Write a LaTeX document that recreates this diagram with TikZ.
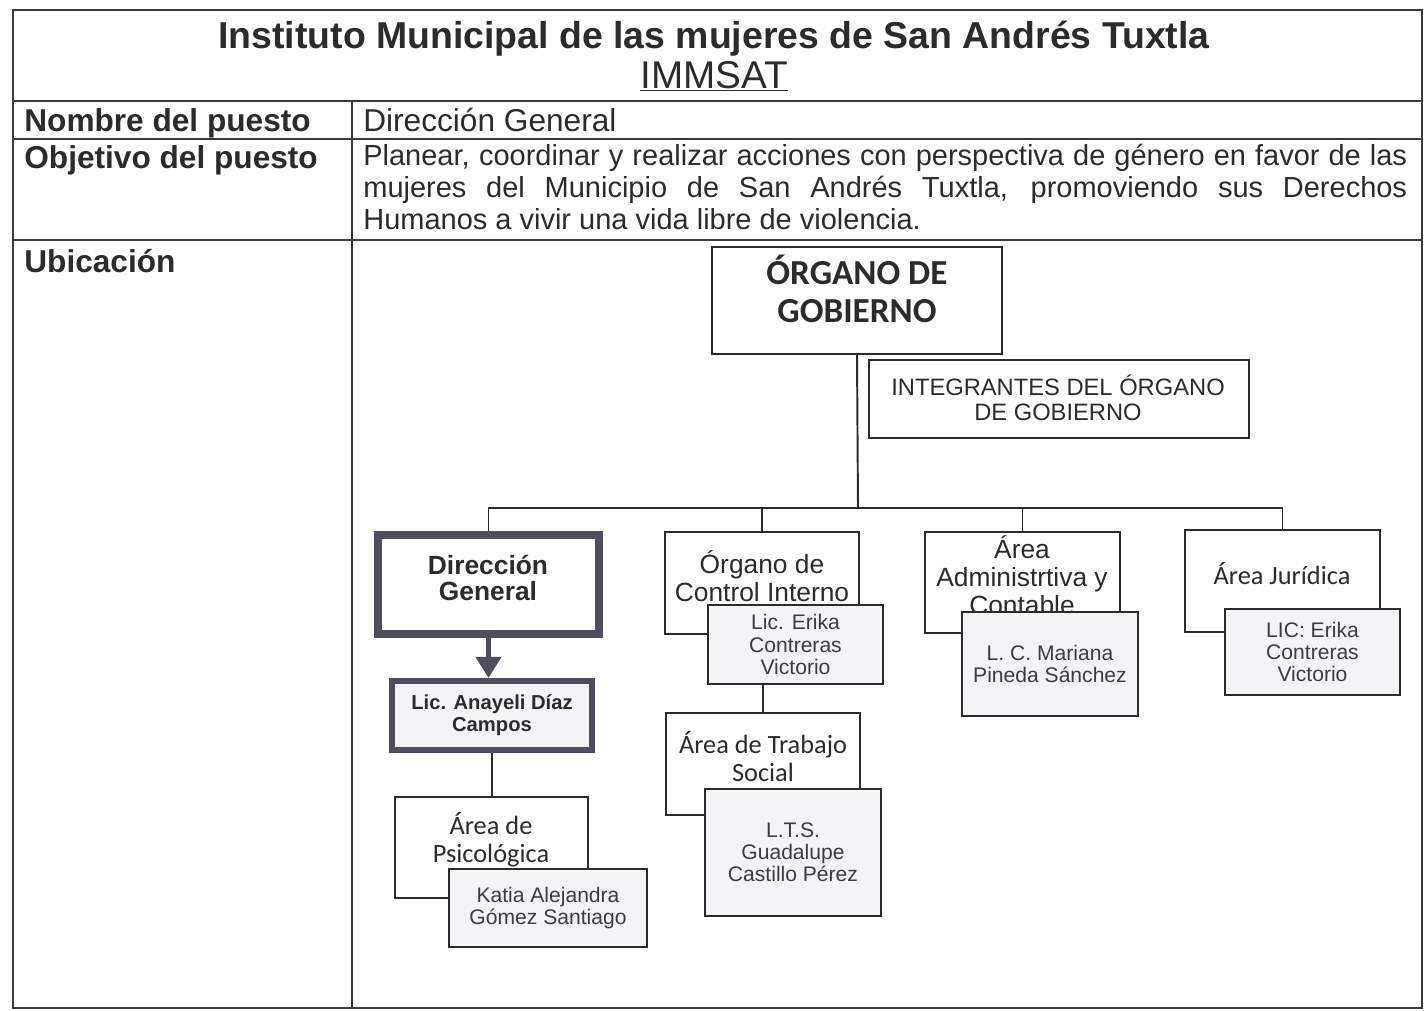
\documentclass[tikz,border=0pt]{standalone}
\usepackage{fontspec}
\setmainfont{Liberation Sans}
\newfontfamily\calibri{Carlito}
\usetikzlibrary{arrows.meta}

\definecolor{ink}{HTML}{2B2B2B}
\definecolor{rulecol}{HTML}{3A3A3A}
\definecolor{framecol}{HTML}{4E4E5C}
\definecolor{namefill}{HTML}{F4F4F6}
\definecolor{nameink}{HTML}{3C3C40}

\tikzset{
  box/.style={draw=ink, line width=1.1pt, fill=white, inner sep=0pt},
  namebox/.style={box, fill=namefill, text=nameink, align=center, font=\fontsize{12}{12.6}\selectfont},
  areatxt/.style={align=center, text=ink, inner sep=0pt},
  arialtxt/.style={areatxt, font=\fontsize{15}{15.8}\selectfont},
  calibtxt/.style={areatxt, font=\calibri\fontsize{15}{16}\selectfont},
  conn/.style={draw=ink, line width=1.1pt},
  rowtxt/.style={anchor=base west, inner sep=0pt, text=ink, font=\fontsize{18}{18.4}\selectfont},
}

\begin{document}
\begin{tikzpicture}[x=0.02cm, y=-0.02cm]
\useasboundingbox (0,0) rectangle (1427,1011);

% tabla
\draw[rulecol, line width=0.8pt] (13,10) rectangle (1422,1008);
\draw[rulecol, line width=0.8pt] (13,101) -- (1422,101) (13,139) -- (1422,139)
  (13,240) -- (1422,240) (352,101) -- (352,1008);

\node[anchor=base, inner sep=0pt, text=ink, font=\bfseries\fontsize{21.3}{23}\selectfont] (titulo) at (714,48)
  {Instituto Municipal de las mujeres de San Andrés Tuxtla};
\node[anchor=base, inner sep=0pt, text=ink, font=\fontsize{22}{23}\selectfont] (sigla) at (714,88) {\underline{IMMSAT}};

\node[rowtxt, font=\bfseries\fontsize{18}{18.4}\selectfont] (nombre) at (24,131) {Nombre del puesto};
\node[rowtxt, font=\bfseries\fontsize{18}{18.4}\selectfont] (objetivo) at (24,168) {Objetivo del puesto};
\node[rowtxt, font=\bfseries\fontsize{18}{18.4}\selectfont] (ubicacion) at (24,272) {Ubicación};
\node[rowtxt] (puesto) at (363,131) {Dirección General};
\node[rowtxt, font=\fontsize{16.5}{18.4}\selectfont, text width=20.88cm, align=justify] (objtxt) at (363,165)
  {Planear, coordinar y realizar acciones con perspectiva de género en favor de las\linebreak
   mujeres del Municipio de San Andrés Tuxtla, promoviendo sus Derechos\linebreak
   Humanos a vivir una vida libre de violencia.};

% organigrama
\node[box, minimum width=5.8cm, minimum height=2.14cm] (gob) at (857,300.5) {};
\node[areatxt, font=\calibri\bfseries\fontsize{20}{21.5}\selectfont] (gobt) at (857,289) {ÓRGANO DE\\GOBIERNO};
\node[box, minimum width=7.6cm, minimum height=1.56cm] (integ) at (1059,399) {};
\node[areatxt, font=\fontsize{13.5}{14}\selectfont] (integt) at (1058,398) {INTEGRANTES DEL ÓRGANO\\DE GOBIERNO};

\coordinate (bus) at (858,508);

\node[box, draw=framecol, line width=4.5pt, minimum width=4.42cm, minimum height=1.98cm] (dir) at (488.5,584.5) {};
\node[areatxt, font=\bfseries\fontsize{15}{15.3}\selectfont] (dirt) at (488,578) {Dirección\\General};
\node[namebox, draw=framecol, line width=3.4pt, text=ink, font=\bfseries\fontsize{11.5}{12.5}\selectfont,
  minimum width=4cm, minimum height=1.38cm] (anay) at (492,715.5) {Lic. Anayeli Díaz\\Campos};
\draw[framecol, line width=3.4pt, -{Triangle[width=14pt,length=12pt]}] (dir.south) -- (dir.south |- anay.north);

\node[box, minimum width=3.86cm, minimum height=2.02cm] (psic) at (491.5,847.5) {};
\node[calibtxt] (psict) at (491,840) {Área de\\Psicológica};
\node[namebox, minimum width=3.96cm, minimum height=1.56cm] (katia) at (548,908) {Katia Alejandra\\Gómez Santiago};

\node[box, minimum width=3.88cm, minimum height=2.04cm] (oci) at (762,583) {};
\node[arialtxt] (ocit) at (762,576) {Órgano de\\Control Interno};
\node[namebox, minimum width=3.5cm, minimum height=1.58cm] (erika) at (795.5,644.5) {Lic. Erika\\Contreras\\Victorio};

\node[box, minimum width=3.88cm, minimum height=2.04cm] (trab) at (763,764) {};
\node[calibtxt] (trabt) at (763,757) {Área de Trabajo\\Social};
\node[namebox, minimum width=3.52cm, minimum height=2.54cm] (lts) at (793,852.5) {L.T.S.\\Guadalupe\\Castillo Pérez};

\node[box, minimum width=3.9cm, minimum height=2.02cm] (adm) at (1022.5,582.5) {};
\node[arialtxt] (admt) at (1022,575) {Área\\Administrtiva y\\Contable};
\node[namebox, minimum width=3.52cm, minimum height=2.08cm] (mariana) at (1050,664) {L. C. Mariana\\Pineda Sánchez};

\node[box, minimum width=3.9cm, minimum height=2.04cm] (jur) at (1282.5,581) {};
\node[calibtxt] (jurt) at (1282,574) {Área Jurídica};
\node[namebox, minimum width=3.5cm, minimum height=1.72cm] (lic) at (1312.5,652) {LIC: Erika\\Contreras\\Victorio};

\draw[conn] (gob.south) -- (bus);
\draw[conn] (dir.north) |- (bus) -| (jur.north);
\draw[conn] (oci.north) -- (oci.north |- bus);
\draw[conn] (adm.north) -- (adm.north |- bus);
\draw[conn] (anay.south) -- (anay.south |- psic.north);
\draw[conn] (trab.north) -- (trab.north |- erika.south);
\end{tikzpicture}
\end{document}
